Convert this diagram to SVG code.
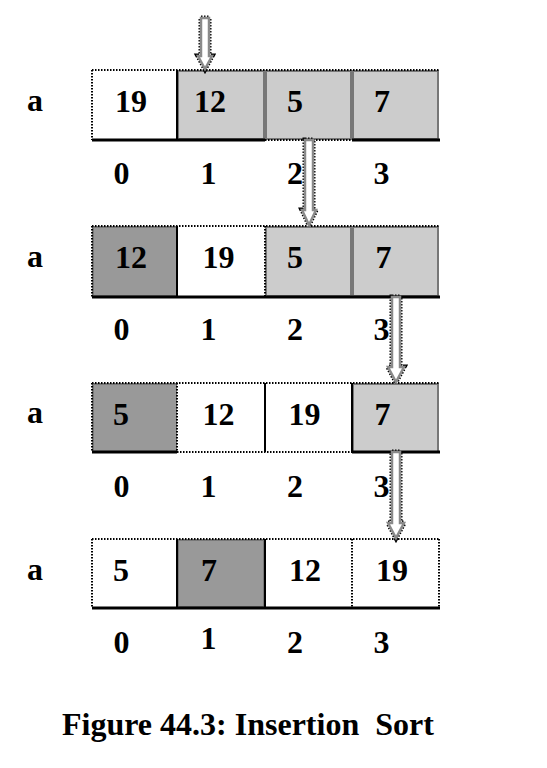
<svg xmlns="http://www.w3.org/2000/svg" width="547" height="768" viewBox="0 0 547 768">
<style>
text{font-family:"Liberation Serif","Times New Roman",serif;font-weight:bold;font-size:32px;fill:#000}
.v{text-anchor:middle}
.w{fill:#fff}
.g1{fill:#ccc;stroke:#777;stroke-width:2}
.g2{fill:#999;stroke:#777;stroke-width:2}
.dot{stroke:#000;stroke-width:2;stroke-dasharray:1.5 1.5;fill:none}
.div{stroke:#000;stroke-width:2}
.base{stroke:#000;stroke-width:3}
.ao{fill:none;stroke:#000;stroke-width:5;stroke-dasharray:1.5 1.5}
.ai{fill:#fff;stroke:#8a8a8a;stroke-width:2.5}
</style>
<rect width="547" height="768" fill="#fff"/>

<g id="row1">
  <text x="27" y="111">a</text>
  <g id="r1c0"><rect class="w" x="92" y="70" width="85" height="70"/><text class="v" x="131" y="112">19</text></g>
  <g id="r1c1"><rect class="g1" x="178" y="71" width="86" height="68"/><text class="v" x="210" y="112">12</text></g>
  <g id="r1c2"><rect class="g1" x="266" y="71" width="85" height="68"/><text class="v" x="295" y="112">5</text></g>
  <g id="r1c3"><rect class="g1" x="353" y="71" width="85" height="68"/><text class="v" x="382" y="112">7</text></g>
  <path class="dot" d="M92,70 H439 M92,70 V140"/>
  <path class="div" d="M177,70 V140"/>
  <path class="base" d="M92,140 H265 M352,140 H440"/>
  <path class="dot" d="M265,140 H352"/>
  <text class="v" x="121.5" y="184">0</text><text class="v" x="208.5" y="184">1</text><text class="v" x="295" y="184">2</text><text class="v" x="381.5" y="184">3</text>
</g>

<g id="row2">
  <text x="27" y="267">a</text>
  <g id="r2c0"><rect class="g2" x="93" y="227" width="84" height="69"/><text class="v" x="131" y="268">12</text></g>
  <g id="r2c1"><rect class="w" x="177" y="226" width="88" height="71"/><text class="v" x="218.5" y="268">19</text></g>
  <g id="r2c2"><rect class="g1" x="266" y="227" width="85" height="69"/><text class="v" x="295" y="268">5</text></g>
  <g id="r2c3"><rect class="g1" x="353" y="227" width="85" height="69"/><text class="v" x="383.5" y="268">7</text></g>
  <path class="dot" d="M92,226 H439 M92,226 V297 M265,226 V297"/>
  <path class="div" d="M177,226 V297"/>
  <path class="base" d="M92,297 H440"/>
  <text class="v" x="121.5" y="340">0</text><text class="v" x="208.5" y="340">1</text><text class="v" x="295" y="340">2</text><text class="v" x="381.5" y="340">3</text>
</g>

<g id="row3">
  <text x="27" y="423">a</text>
  <g id="r3c0"><rect class="g2" x="93" y="384" width="84" height="68"/><text class="v" x="121" y="425">5</text></g>
  <g id="r3c1"><rect class="w" x="177" y="383" width="88" height="69"/><text class="v" x="218.5" y="425">12</text></g>
  <g id="r3c2"><rect class="w" x="265" y="383" width="87" height="69"/><text class="v" x="304.5" y="425">19</text></g>
  <g id="r3c3"><rect class="g1" x="353" y="384" width="85" height="68"/><text class="v" x="382.5" y="425">7</text></g>
  <path class="dot" d="M92,383 H439 M92,383 V452 M177,383 V452"/>
  <path class="div" d="M265,383 V452 M352,383 V452"/>
  <path class="base" d="M92,452 H177 M352,452 H440"/>
  <path class="dot" d="M177,452 H352"/>
  <text class="v" x="121.5" y="497">0</text><text class="v" x="208.5" y="497">1</text><text class="v" x="295" y="497">2</text><text class="v" x="381.5" y="497">3</text>
</g>

<g id="row4">
  <text x="27" y="580">a</text>
  <g id="r4c0"><rect class="w" x="92" y="539" width="85" height="69"/><text class="v" x="121" y="581">5</text></g>
  <g id="r4c1"><rect class="g2" x="178" y="540" width="86" height="67"/><text class="v" x="209" y="581">7</text></g>
  <g id="r4c2"><rect class="w" x="265" y="539" width="87" height="69"/><text class="v" x="305" y="581">12</text></g>
  <g id="r4c3"><rect class="w" x="352" y="539" width="87" height="69"/><text class="v" x="392" y="581">19</text></g>
  <path class="dot" d="M92,539 H439 M92,539 V608 M352,539 V608 M439,539 V608"/>
  <path class="div" d="M177,539 V608 M265,539 V608"/>
  <path class="base" d="M92,608 H440"/>
  <path class="dot" d="M265,608 H352"/>
  <text class="v" x="121.5" y="653">0</text><text class="v" x="208.5" y="649">1</text><text class="v" x="295" y="653">2</text><text class="v" x="381.5" y="653">3</text>
</g>

<g id="connectors">
  <path class="ao" d="M201,18 H209 V56 H212 L205,69 L198,56 H201 Z"/>
  <path class="ai" d="M201,18 H209 V56 H212 L205,69 L198,56 H201 Z"/>
  <path class="ao" d="M305,140 H313 V210 H316 L309,225 L302,210 H305 Z"/>
  <path class="ai" d="M305,140 H313 V210 H316 L309,225 L302,210 H305 Z"/>
  <path class="ao" d="M392,297 H400 V367 H404 L396,382 L388,367 H392 Z"/>
  <path class="ai" d="M392,297 H400 V367 H404 L396,382 L388,367 H392 Z"/>
  <path class="ao" d="M392,452 H400 V523 H404 L396,538 L388,523 H392 Z"/>
  <path class="ai" d="M392,452 H400 V523 H404 L396,538 L388,523 H392 Z"/>
</g>

<text id="caption" x="62" y="735" xml:space="preserve">Figure 44.3: Insertion  Sort</text>
</svg>
